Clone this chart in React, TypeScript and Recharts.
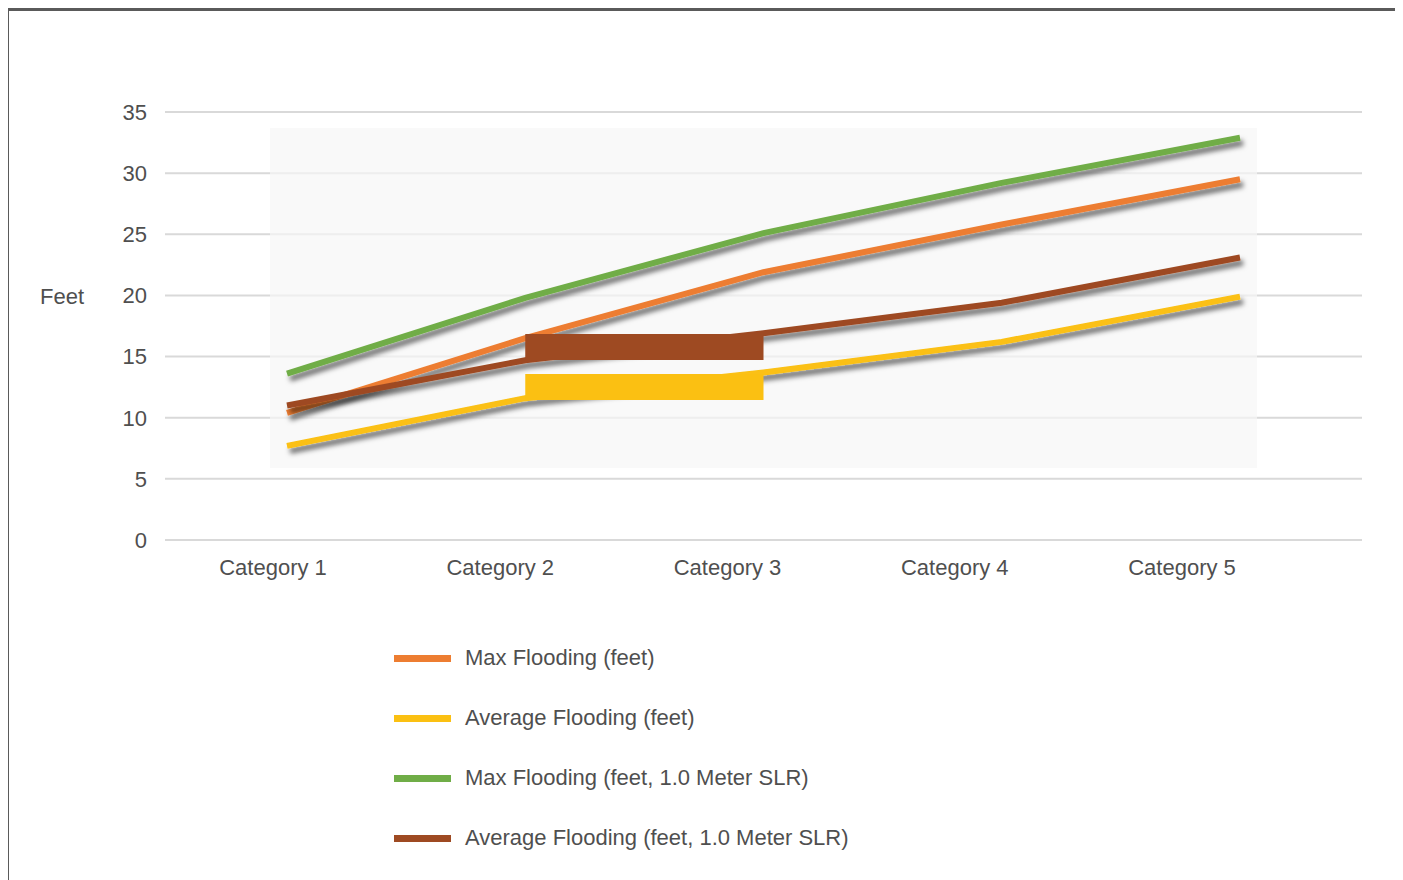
import React from "react";
import {
  ComposedChart,
  Line,
  Area,
  XAxis,
  YAxis,
  CartesianGrid,
  Legend,
  ReferenceArea,
} from "recharts";

const categories = ["Category 1", "Category 2", "Category 3", "Category 4", "Category 5"];
const seriesNames = [
  "Max Flooding (feet)",
  "Average Flooding (feet)",
  "Max Flooding (feet, 1.0 Meter SLR)",
  "Average Flooding (feet, 1.0 Meter SLR)",
];
const maxFlooding = [10.4, 16.5, 21.9, 25.8, 29.5];
const avgFlooding = [7.7, 11.6, 13.7, 16.2, 19.9];
const maxFloodingSlr = [13.6, 19.8, 25.1, 29.2, 32.9];
const avgFloodingSlr = [11.0, 14.7, 16.9, 19.4, 23.1];
// solid blocks that sit over the Category 2 - 3 segment
const avgSlrBlock = [null, [14.72, 16.85], [14.72, 16.85], null, null];
const avgBlock = [null, [11.45, 13.57], [11.45, 13.57], null, null];
const yTicks = [0, 5, 10, 15, 20, 25, 30, 35];

const data = categories.map((category, i) => ({
  category,
  max: maxFlooding[i],
  avg: avgFlooding[i],
  maxSlr: maxFloodingSlr[i],
  avgSlr: avgFloodingSlr[i],
  avgSlrBlock: avgSlrBlock[i],
  avgBlock: avgBlock[i],
}));

const FONT = "'Liberation Sans', Arial, sans-serif";
const TEXT = "#4f4f4f";

const renderLegend = (props: any) => {
  const items = (props.payload || [])
    .filter((p: any) => seriesNames.includes(p.value))
    .sort((a: any, b: any) => seriesNames.indexOf(a.value) - seriesNames.indexOf(b.value));
  return (
    <div style={{ height: 240 }}>
      {items.map((entry: any) => (
        <div
          key={entry.value}
          style={{ height: 60, display: "flex", alignItems: "center" }}
        >
          <span
            style={{
              display: "inline-block",
              width: 57,
              height: 7,
              background: entry.color,
              marginRight: 14,
            }}
          />
          <span style={{ fontSize: 22, fontFamily: FONT, color: TEXT }}>
            {entry.value}
          </span>
        </div>
      ))}
    </div>
  );
};

// the grey plot backdrop is a bit wider than the first/last point
const Backdrop = (props: any) => {
  const { x, y, width, height } = props;
  return (
    <rect x={x - 17} y={y} width={width + 34} height={height} fill="#f7f7f7" fillOpacity={0.7} />
  );
};

export default function App() {
  return (
    <div
      style={{
        width: 1393,
        height: 900,
        marginLeft: -2,
        boxSizing: "border-box",
        border: "3px solid #5a5a5a",
        background: "#fff",
        overflow: "hidden",
      }}
    >
      <ComposedChart
        width={1387}
        height={869}
        data={data}
        margin={{ top: 101, right: 34, bottom: 12, left: 20 }}
      >
        <defs>
          <filter id="shadow" x="-10%" y="-50%" width="120%" height="200%">
            <feDropShadow dx="3" dy="5" stdDeviation="2.5" floodColor="#000" floodOpacity="0.55" />
          </filter>
        </defs>
        <CartesianGrid vertical={false} stroke="#d9d9d9" strokeWidth={2} />
        <XAxis
          xAxisId="cat"
          dataKey="category"
          type="category"
          padding={{ left: 108, right: 180 }}
          axisLine={false}
          tickLine={false}
          tickSize={0}
          tickMargin={19}
          height={88}
          interval={0}
          tick={{ fill: TEXT, fontSize: 22, fontFamily: FONT }}
        />
        <XAxis
          xAxisId="line"
          dataKey="category"
          type="category"
          padding={{ left: 122, right: 122 }}
          hide
        />
        <YAxis
          domain={[0, 35]}
          ticks={yTicks}
          width={136}
          axisLine={false}
          tickLine={false}
          tickSize={0}
          tickMargin={18}
          tick={{ fill: TEXT, fontSize: 22, fontFamily: FONT }}
          label={{
            value: "Feet",
            position: "insideLeft",
            offset: 11,
            dy: -30,
            fill: TEXT,
            fontSize: 22,
            fontFamily: FONT,
          }}
        />
        <ReferenceArea
          xAxisId="line"
          x1="Category 1"
          x2="Category 5"
          y1={5.9}
          y2={33.7}
          shape={Backdrop}
        />
        <Line
          xAxisId="line"
          dataKey="max"
          name={seriesNames[0]}
          stroke="#ed7d31"
          strokeWidth={6}
          dot={false}
          filter="url(#shadow)"
          isAnimationActive={false}
        />
        <Line
          xAxisId="line"
          dataKey="avg"
          name={seriesNames[1]}
          stroke="#fbc012"
          strokeWidth={6}
          dot={false}
          filter="url(#shadow)"
          isAnimationActive={false}
        />
        <Line
          xAxisId="line"
          dataKey="maxSlr"
          name={seriesNames[2]}
          stroke="#70ad47"
          strokeWidth={6}
          dot={false}
          filter="url(#shadow)"
          isAnimationActive={false}
        />
        <Line
          xAxisId="line"
          dataKey="avgSlr"
          name={seriesNames[3]}
          stroke="#9e4a22"
          strokeWidth={6}
          dot={false}
          filter="url(#shadow)"
          isAnimationActive={false}
        />
        <Area
          xAxisId="line"
          type="linear"
          dataKey="avgSlrBlock"
          name="block1"
          legendType="none"
          stroke="none"
          fill="#9e4a22"
          fillOpacity={1}
          zIndex={900}
          isAnimationActive={false}
        />
        <Area
          xAxisId="line"
          type="linear"
          dataKey="avgBlock"
          name="block2"
          legendType="none"
          stroke="none"
          fill="#fbc012"
          fillOpacity={1}
          zIndex={900}
          isAnimationActive={false}
        />
        <Legend
          verticalAlign="bottom"
          align="left"
          layout="horizontal"
          content={renderLegend}
          wrapperStyle={{ left: 385, width: 620 }}
        />
      </ComposedChart>
    </div>
  );
}
